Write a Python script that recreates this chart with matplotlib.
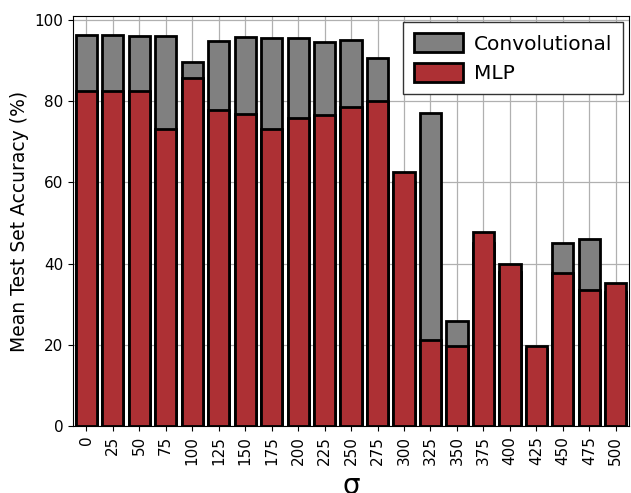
import matplotlib.pyplot as plt
import numpy as np

sigmas = ["0", "25", "50", "75", "100", "125", "150", "175", "200", "225", "250",
          "275", "300", "325", "350", "375", "400", "425", "450", "475", "500"]
conv_acc = [96.3, 96.3, 96.1, 96.0, 89.7, 94.8, 95.8, 95.6, 95.6, 94.6, 95.1,
            90.6, 60.0, 77.1, 25.9, 45.0, 38.0, 19.0, 45.1, 46.1, 33.0]
mlp_acc = [82.5, 82.5, 82.5, 73.2, 85.7, 77.8, 76.8, 73.2, 75.9, 76.6, 78.6,
           80.0, 62.6, 21.2, 19.7, 47.8, 39.9, 19.7, 37.7, 33.5, 35.2]

x = np.arange(len(sigmas))

fig = plt.figure(figsize=(6.31, 4.93), dpi=100)
ax = fig.add_axes([0.1157, 0.136, 0.8813, 0.8315])
ax.set_axisbelow(True)
ax.grid(True, color="#b0b0b0", linewidth=0.9)

ax.bar(x, conv_acc, width=0.8, color="#808080", edgecolor="black",
       linewidth=2, label="Convolutional")
ax.bar(x, mlp_acc, width=0.8, color="#ad3034", edgecolor="black",
       linewidth=2, label="MLP")

ax.set_xlim(-0.5, len(sigmas) - 0.5)
ax.set_ylim(0, 101)
ax.set_xticks(x)
ax.set_xticklabels(sigmas, rotation=90, fontsize=11)
ax.set_yticks([0, 20, 40, 60, 80, 100])
ax.tick_params(axis="y", labelsize=11)
ax.set_ylabel("Mean Test Set Accuracy (%)", fontsize=13.5)
ax.set_xlabel("σ", fontsize=20, labelpad=5)

leg = ax.legend(loc="upper right", fontsize=14.5, fancybox=False,
                framealpha=1, edgecolor="#333333", borderaxespad=0.3,
                borderpad=0.55, handlelength=2.4, handleheight=1.1,
                handletextpad=0.55, labelspacing=0.45)

fig.savefig("out.png", dpi=100)
